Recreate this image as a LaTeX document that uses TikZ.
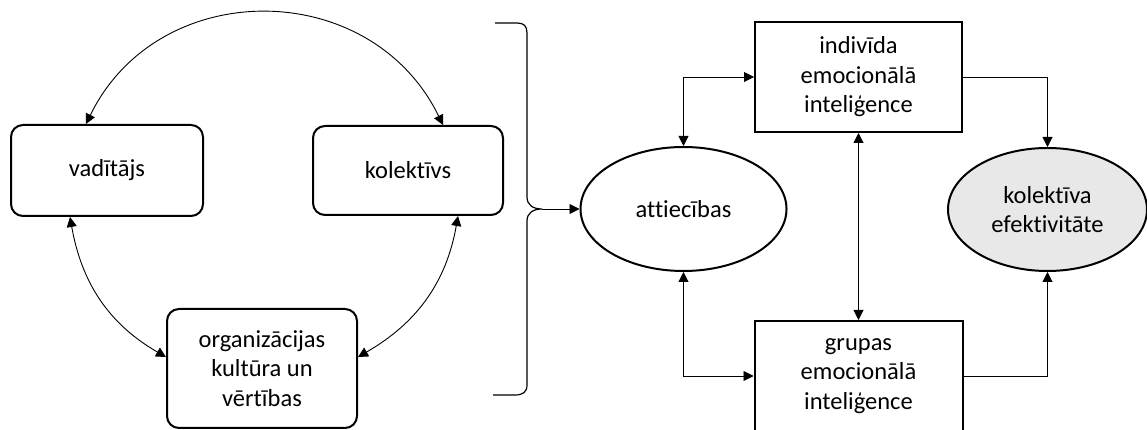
\documentclass[tikz,border=0pt]{standalone}
\usepackage{fontspec}
\setmainfont{Carlito}[Ligatures={NoCommon,NoContextual,NoRequired}]
\usetikzlibrary{arrows.meta,shapes.geometric,calc}

\begin{document}
\begin{tikzpicture}[x=1pt,y=1pt,
  txt/.style={font=\fontsize{24.5}{29.5}\selectfont, align=center, text=black},
  rbox/.style={txt, draw, line width=2pt, rounded corners=12pt, inner sep=0pt},
  sbox/.style={txt, draw, line width=2pt, inner sep=0pt},
  oval/.style={txt, ellipse, draw, line width=2pt, inner sep=0pt},
  link/.style={line width=0.9pt, -{Triangle[length=10pt,width=10pt]}},
  duo/.style={line width=0.9pt, {Triangle[length=10pt,width=10pt]}-{Triangle[length=10pt,width=10pt]}},
]
\useasboundingbox (0,0) rectangle (1147,430);

% left cycle of factors
\node[rbox, minimum width=192pt, minimum height=91pt] (vad) at (107,259.5) {vadītājs};
\node[rbox, minimum width=190pt, minimum height=89pt] (kol) at (408,259.5) {kolektīvs};
\node[rbox, minimum width=190pt, minimum height=119pt] (org) at (262,61.5) {organizācijas\\kultūra un\\vērtības};

\draw[duo] ([xshift=-21pt]vad.north) to[out=64,in=116,looseness=1.18] ([xshift=35pt]kol.north);
\draw[duo] ([xshift=-37pt]vad.south) to[out=-80,in=150] ([yshift=11.5pt]org.west);
\draw[duo] ([xshift=50pt]kol.south) to[out=-100,in=30] ([yshift=11.5pt]org.east);

% brace gathering the three factors
\draw[line width=1.2pt]
  (495,407) -- (517,407) .. controls (524,407) and (527,404) .. (527,397)
  -- (527,233) .. controls (527,225) and (533,221) .. (542,221) coordinate (bt)
  .. controls (533,221) and (527,217) .. (527,209)
  -- (527,45) .. controls (527,38) and (523,35) .. (515,35) -- (493,35);

% right model
\node[oval, minimum width=206pt, minimum height=124pt] (att) at (683.5,221) {attiecības};
\node[sbox, minimum width=207pt, minimum height=110pt] (ind) at (858.5,353) {indivīda\\emocionālā\\inteliģence};
\node[sbox, minimum width=208pt, minimum height=110pt] (gru) at (858.5,54) {grupas\\emocionālā\\inteliģence};
\node[oval, fill=black!9, minimum width=199pt, minimum height=123pt] (eff) at (1047.5,220.5) {kolektīva\\efektivitāte};

\draw[link] (bt) -- (att.west);
\draw[duo] (att.north) |- (ind.west);
\draw[duo] (att.south) |- (gru.west);
\draw[duo] (ind.south) -- (gru.north);
\draw[link] (ind.east) -| (eff.north);
\draw[link] (gru.east) -| (eff.south);
\end{tikzpicture}
\end{document}
